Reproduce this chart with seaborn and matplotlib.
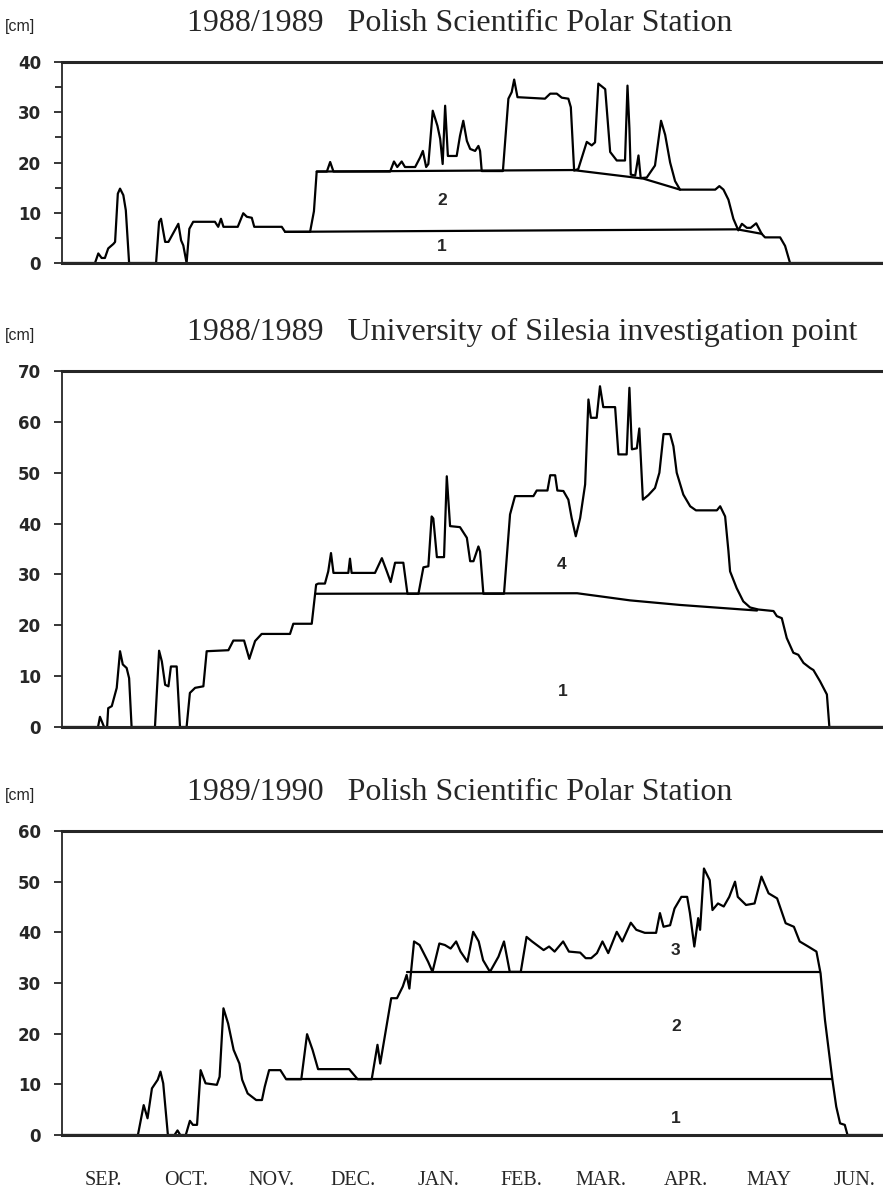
import numpy as np
import pandas as pd
import matplotlib.pyplot as plt
import seaborn as sns

# --- snow depth [cm], x = days since 1 September ---

# 1988/1989 Polish Scientific Polar Station
st8889_day = [0, 12.0, 13.2, 14.4, 15.6, 16.8, 18.7, 19.3, 20.3, 21.1,
              22.3, 23.2, 24.4, 34.2, 35.3, 36.0, 37.5, 38.7, 42.3, 43.3,
              44.1, 45.3, 46.3, 47.7, 55.6, 56.8, 57.8, 58.7, 63.9, 65.9,
              67.2, 69.0, 69.9, 79.9, 81.1, 90.2, 91.6, 92.6, 96.3, 97.5,
              98.7, 119.3, 120.7, 121.9, 123.5, 124.7, 128.4, 130.2, 131.2, 132.4,
              133.2, 134.8, 136.5, 137.5, 138.4, 139.3, 140.3, 143.5, 144.7, 145.9,
              147.2, 148.4, 150.2, 151.4, 152.0, 152.6, 160.3, 162.3, 163.5, 164.4,
              165.6, 175.6, 177.5, 179.9, 181.7, 184.1, 185.0, 186.2, 187.7, 190.8,
              192.6, 193.8, 195.0, 197.5, 199.3, 201.7, 204.7, 205.6, 206.3, 206.8,
              208.4, 209.6, 210.4, 212.6, 215.6, 217.8, 219.3, 221.1, 222.9, 224.7,
              237.5, 239.0, 240.5, 242.3, 244.1, 245.9, 247.2, 249.0, 250.4, 252.4,
              254.4, 255.6, 261.1, 262.9, 264.7, 298.5]
st8889_cm = [0, 0, 1.9, 1.0, 1.0, 2.9, 3.8, 4.2, 13.8, 14.8,
             13.5, 10.5, 0, 0, 8.2, 8.8, 4.2, 4.2, 7.8, 4.5,
             3.5, 0, 6.8, 8.2, 8.2, 7.2, 8.8, 7.2, 7.2, 9.9,
             9.2, 9.0, 7.2, 7.2, 6.2, 6.2, 10.3, 18.2, 18.2, 20.1,
             18.2, 18.2, 20.2, 19.1, 20.2, 19.1, 19.1, 21.0, 22.3, 19.1,
             19.7, 30.3, 27.3, 24.7, 19.7, 31.3, 21.3, 21.3, 25.3, 28.3,
             24.3, 22.7, 22.3, 23.3, 22.3, 18.3, 18.3, 32.7, 34.0, 36.5,
             33.0, 32.7, 33.7, 33.7, 32.9, 32.7, 31.0, 18.4, 18.7, 24.1,
             23.4, 24.0, 35.7, 34.6, 22.1, 20.4, 20.4, 35.3, 26.8, 17.6,
             17.4, 21.4, 16.9, 17.0, 19.4, 28.3, 25.5, 20.0, 16.3, 14.6,
             14.6, 15.3, 14.6, 12.6, 8.8, 6.5, 7.8, 7.0, 7.0, 7.9,
             5.8, 5.1, 5.1, 3.4, 0, 0]
st8889_top1_day = [81.1, 245.5, 254.5]
st8889_top1_cm = [6.2, 6.7, 5.8]
st8889_top2_day = [92.6, 185.8, 211.3, 224.7]
st8889_top2_cm = [18.2, 18.5, 16.8, 14.6]
st8889_marks = [(138.4, 12.5, '2'), (138.1, 3.2, '1')]

# 1988/1989 University of Silesia investigation point
us8889_day = [0, 13.1, 13.8, 15.3, 16.4, 16.8, 18.1, 19.9, 21.1, 22.1,
              23.5, 24.4, 25.3, 33.8, 35.3, 36.3, 37.5, 38.7, 39.6, 41.7,
              42.9, 45.3, 46.5, 48.4, 51.4, 52.6, 60.5, 62.3, 66.2, 68.1,
              70.2, 72.6, 82.9, 84.1, 90.8, 92.4, 93.2, 95.6, 96.8, 97.8,
              98.7, 104.1, 104.7, 105.3, 113.8, 116.3, 118.1, 119.5, 121.1, 124.1,
              125.6, 129.6, 131.4, 133.2, 134.4, 135.0, 136.3, 138.9, 139.9, 141.1,
              144.7, 147.2, 148.4, 149.6, 151.4, 152.0, 153.2, 160.7, 162.9, 164.7,
              171.4, 172.6, 176.5, 177.5, 179.3, 180.1, 182.3, 184.1, 185.3, 186.8,
              188.4, 190.2, 191.4, 192.3, 194.4, 195.6, 196.8, 201.1, 202.3, 205.3,
              206.3, 207.2, 209.0, 209.9, 211.2, 213.2, 215.6, 217.2, 218.7, 221.1,
              222.3, 223.5, 225.9, 228.4, 230.5, 238.1, 239.3, 241.1, 242.3, 242.9,
              245.3, 247.7, 250.2, 253.2, 258.7, 259.9, 261.7, 263.5, 265.9, 267.7,
              269.6, 272.0, 273.2, 275.6, 278.1, 279.0, 298.5]
us8889_cm = [0, 0, 2.0, 0, 0, 3.7, 4.1, 7.7, 14.9, 12.3,
             11.6, 9.6, 0, 0, 15.0, 12.9, 8.3, 8.0, 11.9, 11.9,
             0, 0, 6.7, 7.7, 8.0, 14.9, 15.1, 17.0, 17.0, 13.4,
             16.9, 18.3, 18.3, 20.3, 20.3, 28.0, 28.2, 28.2, 30.6, 34.2,
             30.3, 30.3, 33.1, 30.3, 30.3, 33.2, 30.6, 28.5, 32.3, 32.3,
             26.2, 26.2, 31.4, 31.6, 41.4, 41.0, 33.4, 33.4, 49.3, 39.5,
             39.3, 37.2, 32.6, 32.6, 35.5, 34.5, 26.2, 26.2, 41.8, 45.4,
             45.4, 46.5, 46.5, 49.5, 49.5, 46.5, 46.4, 44.7, 41.1, 37.5,
             41.1, 47.7, 64.4, 60.8, 60.8, 67.0, 62.9, 62.9, 53.6, 53.6,
             66.7, 54.6, 54.8, 58.7, 44.7, 45.6, 47.0, 50.0, 57.6, 57.6,
             55.2, 50.0, 45.7, 43.4, 42.6, 42.6, 43.4, 41.4, 34.6, 30.6,
             27.3, 24.7, 23.5, 23.1, 22.8, 21.8, 21.4, 17.5, 14.6, 14.2,
             12.6, 11.6, 11.2, 9.0, 6.4, 0, 0]
us8889_top1_day = [92.4, 187.3, 195.6, 206.5, 224.7, 252.7]
us8889_top1_cm = [26.2, 26.3, 25.7, 24.9, 24.0, 22.9]
us8889_marks = [(181.7, 31.9, '4'), (182.1, 7.0, '1')]

# 1989/1990 Polish Scientific Polar Station
st8990_day = [0, 27.6, 29.7, 31.1, 32.7, 34.8, 35.8, 36.8, 38.5, 40.9,
              42.0, 43.0, 45.0, 46.5, 47.6, 49.1, 50.4, 52.2, 56.3, 57.3,
              58.7, 60.4, 62.4, 64.5, 65.5, 67.5, 70.6, 72.7, 73.7, 75.3,
              79.4, 81.5, 87.0, 89.1, 91.1, 93.1, 104.4, 107.5, 112.6, 114.7,
              115.7, 119.7, 121.8, 123.9, 125.3, 126.3, 128.0, 130.0, 133.1, 134.7,
              137.2, 139.2, 141.3, 143.3, 144.9, 147.4, 149.5, 151.5, 153.1, 155.6,
              158.7, 160.7, 162.8, 166.8, 168.9, 170.9, 175.1, 177.1, 179.1, 182.2,
              184.3, 188.4, 190.4, 192.4, 194.5, 196.5, 198.6, 201.7, 203.7, 206.8,
              208.8, 211.9, 216.0, 217.4, 218.7, 221.1, 222.7, 225.2, 227.3, 228.3,
              229.9, 231.3, 232.0, 233.4, 235.5, 236.5, 238.5, 240.6, 242.6, 244.7,
              245.7, 248.7, 251.8, 254.3, 256.9, 260.0, 263.1, 266.1, 268.2, 271.3,
              274.3, 275.8, 277.4, 280.1, 281.5, 282.9, 284.6, 285.6, 298.5]
st8990_cm = [0, 0, 5.9, 3.3, 9.2, 10.9, 12.5, 10.2, 0, 0,
             0.9, 0, 0, 2.8, 2.0, 2.0, 12.8, 10.2, 9.9, 11.5,
             25.0, 22.0, 16.8, 14.1, 10.9, 8.2, 6.9, 6.9, 9.5, 12.8,
             12.8, 11.0, 11.0, 19.9, 16.8, 13.0, 13.0, 11.0, 11.0, 17.8,
             14.1, 27.0, 27.0, 29.3, 31.6, 28.9, 38.2, 37.5, 34.2, 32.2,
             37.8, 37.5, 36.8, 38.2, 36.2, 34.2, 40.1, 38.2, 34.5, 32.2,
             35.2, 38.2, 32.2, 32.2, 39.1, 38.2, 36.5, 37.2, 36.2, 38.2,
             36.2, 36.0, 34.9, 34.9, 35.9, 38.2, 35.9, 40.1, 38.2, 41.9,
             40.5, 39.9, 39.9, 43.8, 41.1, 41.4, 44.7, 47.0, 47.0, 43.8,
             37.2, 42.8, 40.5, 52.6, 50.3, 44.4, 45.7, 45.1, 47.0, 50.0,
             47.0, 45.4, 45.7, 51.0, 47.7, 46.7, 41.8, 41.1, 38.2, 37.2,
             36.2, 31.9, 22.7, 10.9, 5.6, 2.3, 2.0, 0, 0]
st8990_top1_day = [81.8, 280.1]
st8990_top1_cm = [11.0, 11.0]
st8990_top2_day = [125.5, 275.6]
st8990_top2_cm = [32.2, 32.2]
st8990_marks = [(223.2, 36.5, '3'), (223.2, 21.4, '2'), (223.2, 3.3, '1')]

titles = ['1988/1989   Polish Scientific Polar Station',
          '1988/1989   University of Silesia investigation point',
          '1989/1990   Polish Scientific Polar Station']
months = ['SEP.', 'OCT.', 'NOV.', 'DEC.', 'JAN.', 'FEB.', 'MAR.', 'APR.', 'MAY', 'JUN.']
month_mid = [15, 45, 76, 106, 137, 167, 196, 227, 257, 288]

# --- style ---
sns.set_style('ticks')
plt.rcParams['font.family'] = ['Liberation Sans', 'DejaVu Sans']
SERIF = ['Liberation Serif', 'DejaVu Serif']

W, H = 883, 1192
fig = plt.figure(figsize=(W / 100, H / 100), dpi=100)

# axes boxes in pixels: (top, bottom) of the plotting area
boxes = [(62, 263), (371, 727), (831, 1135)]
left_px = 62


def draw_panel(ax, day, cm, tops, marks, ymax, minor):
    sns.lineplot(x=day, y=cm, ax=ax, color='black', lw=1.6,
                 sort=False, estimator=None)
    for d, c in tops:
        sns.lineplot(x=d, y=c, ax=ax, color='black', lw=1.6,
                     sort=False, estimator=None)
    for d, c, t in marks:
        ax.text(d, c, t, ha='center', va='center', fontsize=12.5,
                fontweight='bold')
    ax.set_xlim(0, 298.5)
    ax.set_ylim(0, ymax)
    ax.set_yticks(range(0, ymax + 1, 10))
    if minor:
        ax.set_yticks(range(5, ymax, 10), minor=True)
    ax.set_xlabel('')
    ax.set_ylabel('')
    ax.spines['right'].set_visible(False)
    ax.spines['top'].set_linewidth(2.2)
    ax.spines['bottom'].set_linewidth(2.2)
    ax.spines['left'].set_linewidth(1.3)
    ax.tick_params(axis='y', which='major', direction='out', length=6,
                   width=1.3, pad=9)
    ax.tick_params(axis='y', which='minor', direction='out', length=5,
                   width=1.3)
    for lab in ax.get_yticklabels():
        lab.set_family(['DejaVu Sans'])
        lab.set_fontweight('bold')
        lab.set_fontsize(12)


panels = [
    (st8889_day, st8889_cm,
     [(st8889_top1_day, st8889_top1_cm), (st8889_top2_day, st8889_top2_cm)],
     st8889_marks, 40, True),
    (us8889_day, us8889_cm, [(us8889_top1_day, us8889_top1_cm)],
     us8889_marks, 70, False),
    (st8990_day, st8990_cm,
     [(st8990_top1_day, st8990_top1_cm), (st8990_top2_day, st8990_top2_cm)],
     st8990_marks, 60, False),
]

axes = []
for (top, bot), (d, c, tops, marks, ymax, minor), title in zip(boxes, panels, titles):
    ax = fig.add_axes([left_px / W, 1 - bot / H, 1 - left_px / W, (bot - top) / H])
    draw_panel(ax, d, c, tops, marks, ymax, minor)
    base = 1 - (top - 31) / H
    fig.text(187 / W, base, title, ha='left', va='baseline',
             family=SERIF, fontsize=23)
    fig.text(5 / W, base, '[cm]', ha='left', va='baseline', fontsize=11.5)
    axes.append(ax)

for ax in axes[:2]:
    ax.set_xticks([])

axes[2].set_xticks(month_mid)
axes[2].set_xticklabels(months, family=SERIF, fontsize=14.5)
axes[2].tick_params(axis='x', length=0, pad=26)

fig.savefig('out.png', dpi=100)
